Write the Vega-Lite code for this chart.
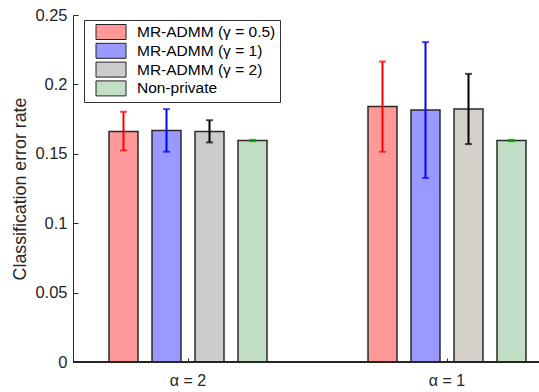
{
  "$schema": "https://vega.github.io/schema/vega-lite/v6.json",
  "autosize": "none",
  "width": 466,
  "height": 347,
  "padding": {"left": 73, "top": 15, "right": 0, "bottom": 30},
  "config": {
    "view": {"stroke": null},
    "font": "Liberation Sans",
    "axis": {"grid": false, "labelFont": "Liberation Sans", "titleFont": "Liberation Sans", "labelColor": "#262626", "titleColor": "#262626", "domainColor": "#262626", "tickColor": "#262626"}
  },
  "data": {
    "values": [
      {"alpha": "α = 2", "method": "MR-ADMM (γ = 0.5)", "rate": 0.166, "lo": 0.1525, "hi": 0.1803},
      {"alpha": "α = 2", "method": "MR-ADMM (γ = 1)", "rate": 0.1667, "lo": 0.1515, "hi": 0.1822},
      {"alpha": "α = 2", "method": "MR-ADMM (γ = 2)", "rate": 0.1661, "lo": 0.1582, "hi": 0.1742},
      {"alpha": "α = 2", "method": "Non-private", "rate": 0.1596, "lo": 0.1591, "hi": 0.1601},
      {"alpha": "α = 1", "method": "MR-ADMM (γ = 0.5)", "rate": 0.184, "lo": 0.1515, "hi": 0.2165},
      {"alpha": "α = 1", "method": "MR-ADMM (γ = 1)", "rate": 0.1816, "lo": 0.1326, "hi": 0.2305},
      {"alpha": "α = 1", "method": "MR-ADMM (γ = 2)", "rate": 0.1823, "lo": 0.157, "hi": 0.2076},
      {"alpha": "α = 1", "method": "Non-private", "rate": 0.1596, "lo": 0.1591, "hi": 0.1601}
    ]
  },
  "encoding": {
    "x": {
      "field": "alpha", "type": "nominal", "sort": ["α = 2", "α = 1"],
      "scale": {"range": [-14.5, 503.5], "paddingInner": 0, "paddingOuter": 0},
      "axis": {"title": null, "labelAngle": 0, "domain": false, "tickSize": -4, "labelPadding": 14, "labelFontSize": 16}
    },
    "xOffset": {
      "field": "method", "type": "nominal",
      "sort": ["MR-ADMM (γ = 0.5)", "MR-ADMM (γ = 1)", "MR-ADMM (γ = 2)", "Non-private"],
      "scale": {"range": [50.5, 208.5], "paddingInner": 0.326, "paddingOuter": 0}
    }
  },
  "layer": [
    {
      "mark": {"type": "bar", "stroke": "#2a2a2a", "strokeWidth": 1.5},
      "encoding": {
        "y": {
          "field": "rate", "type": "quantitative",
          "scale": {"domain": [0, 0.25], "nice": false},
          "axis": {"title": "Classification error rate", "titleFontSize": 17.8, "titleFontWeight": "normal", "titlePadding": 5, "values": [0, 0.05, 0.1, 0.15, 0.2, 0.25], "format": "~g", "labelFontSize": 16.5, "tickSize": -5, "labelPadding": 11}
        },
        "fill": {
          "condition": {"test": "datum.alpha === 'α = 1' && datum.method === 'MR-ADMM (γ = 2)'", "value": "#d4d0c9"},
          "field": "method", "type": "nominal",
          "sort": ["MR-ADMM (γ = 0.5)", "MR-ADMM (γ = 1)", "MR-ADMM (γ = 2)", "Non-private"],
          "scale": {"range": ["#ff9999", "#9999ff", "#cccccc", "#c2dfc6"]},
          "legend": {
            "title": null, "orient": "none", "legendX": 11, "legendY": 5,
            "fillColor": "white", "strokeColor": "#333333", "padding": 4,
            "symbolType": "M-2,-1H2V1H-2Z", "symbolSize": 225, "symbolOffset": 15,
            "symbolStrokeColor": "#222222", "symbolStrokeWidth": 1,
            "labelFontSize": 15.5, "labelFont": "Liberation Sans", "labelColor": "#000000",
            "labelOffset": 18, "rowPadding": -1.2
          }
        }
      }
    },
    {
      "mark": {"type": "rule", "color": "#262626", "strokeWidth": 1},
      "encoding": {"x": null, "xOffset": null, "y": {"datum": 0}}
    },
    {
      "mark": {"type": "rule", "strokeWidth": 2},
      "encoding": {
        "y": {"field": "lo", "type": "quantitative"},
        "y2": {"field": "hi"},
        "stroke": {
          "field": "method", "type": "nominal",
          "sort": ["MR-ADMM (γ = 0.5)", "MR-ADMM (γ = 1)", "MR-ADMM (γ = 2)", "Non-private"],
          "scale": {"range": ["#ff0000", "#0000ff", "#000000", "#00a000"]},
          "legend": null
        }
      }
    },
    {
      "mark": {"type": "tick", "size": 7, "thickness": 2, "orient": "horizontal"},
      "encoding": {
        "y": {"field": "hi", "type": "quantitative"},
        "color": {
          "field": "method", "type": "nominal",
          "sort": ["MR-ADMM (γ = 0.5)", "MR-ADMM (γ = 1)", "MR-ADMM (γ = 2)", "Non-private"],
          "scale": {"range": ["#ff0000", "#0000ff", "#000000", "#00a000"]},
          "legend": null
        }
      }
    },
    {
      "mark": {"type": "tick", "size": 7, "thickness": 2, "orient": "horizontal"},
      "encoding": {
        "y": {"field": "lo", "type": "quantitative"},
        "color": {
          "field": "method", "type": "nominal",
          "sort": ["MR-ADMM (γ = 0.5)", "MR-ADMM (γ = 1)", "MR-ADMM (γ = 2)", "Non-private"],
          "scale": {"range": ["#ff0000", "#0000ff", "#000000", "#00a000"]},
          "legend": null
        }
      }
    }
  ]
}
